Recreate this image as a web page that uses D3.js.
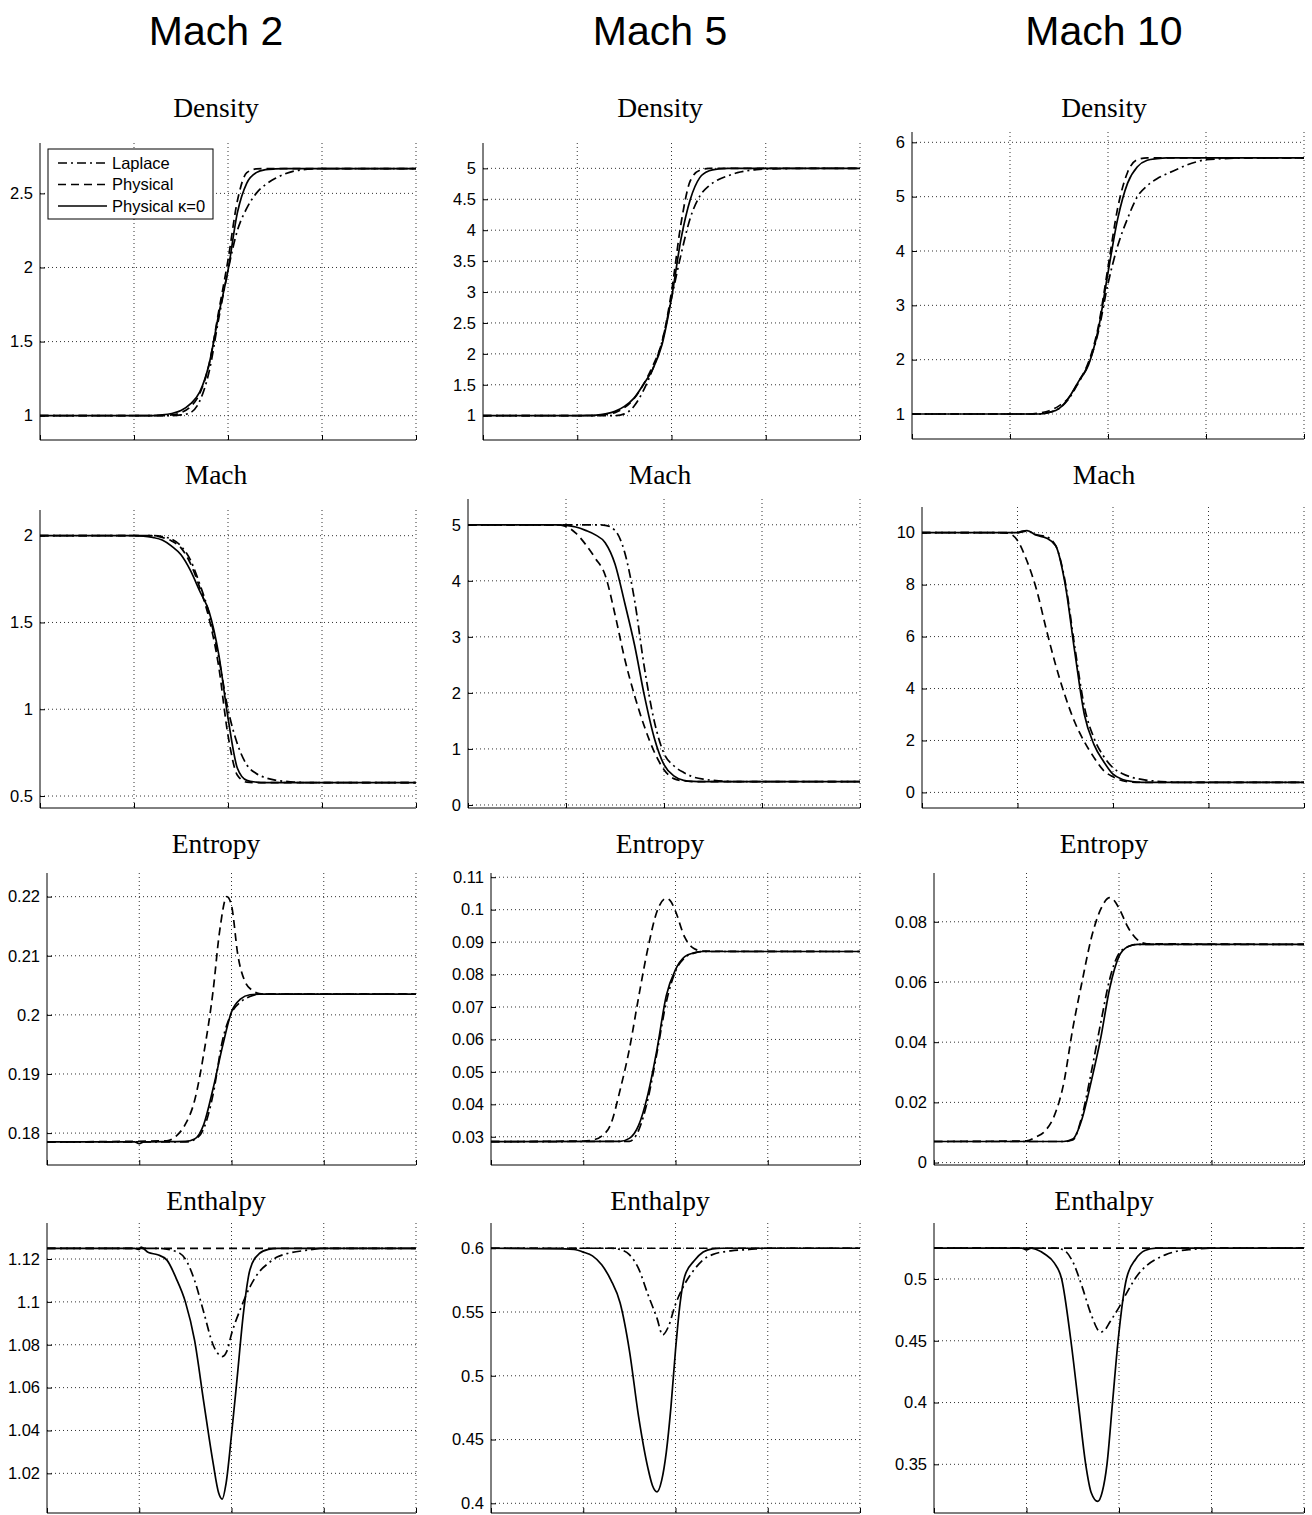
<!DOCTYPE html>
<html>
<head>
<meta charset="utf-8">
<script src="https://cdn.jsdelivr.net/npm/d3@7"></script>
<style>
body { margin: 0; background: #fff; }
.grid line { stroke: #333; stroke-width: 1; stroke-dasharray: 1,3; }
.axis-line { stroke: #000; stroke-width: 1; }
.tick-label { font-family: "Liberation Sans", Arial, sans-serif; font-size: 16.5px; fill: #000; }
.panel-title { font-family: "Liberation Serif", "Times New Roman", serif; font-size: 27.5px; fill: #000; }
.col-title { font-family: "Liberation Sans", Arial, sans-serif; font-size: 41px; fill: #000; }
.series { fill: none; stroke: #000; stroke-width: 1.7; }
.legend text { font-family: "Liberation Sans", Arial, sans-serif; font-size: 16.5px; }
</style>
</head>
<body>
<div id="chart"></div>
<script>
var width = 1312, height = 1515;

var columns = ["Mach 2", "Mach 5", "Mach 10"];
var quantities = ["Density", "Mach", "Entropy", "Enthalpy"];
var seriesNames = ["Laplace", "Physical", "Physical \u03ba=0"];
var xTicks = [0, 1, 2, 3, 4];
var xLimits = [0, 4];

// y tick values, one list per column
var densityTicks = [[1, 1.5, 2, 2.5], [1, 1.5, 2, 2.5, 3, 3.5, 4, 4.5, 5], [1, 2, 3, 4, 5, 6]];
var machTicks = [[0.5, 1, 1.5, 2], [0, 1, 2, 3, 4, 5], [0, 2, 4, 6, 8, 10]];
var entropyTicks = [[0.18, 0.19, 0.2, 0.21, 0.22], [0.03, 0.04, 0.05, 0.06, 0.07, 0.08, 0.09, 0.1, 0.11], [0, 0.02, 0.04, 0.06, 0.08]];
var enthalpyTicks = [[1.02, 1.04, 1.06, 1.08, 1.1, 1.12], [0.4, 0.45, 0.5, 0.55, 0.6], [0.35, 0.4, 0.45, 0.5]];

// y limits
var densityLimits = [[0.836, 2.84], [0.607, 5.41], [0.54, 6.19]];
var machLimits = [[0.431, 2.148], [-0.054, 5.46], [-0.6, 10.99]];
var entropyLimits = [[0.1746, 0.224], [0.0213, 0.1113], [-0.0008, 0.0962]];
var enthalpyLimits = [[1.0015, 1.1368], [0.3924, 0.6198], [0.3106, 0.5453]];

// ---- Density ----
var density2Laplace = [[0,1],[1.4,1],[1.5,1.005],[1.6,1.02],[1.7,1.1],[1.8,1.3],[1.9,1.65],[2.0,1.98],[2.1,2.25],[2.2,2.4],[2.3,2.5],[2.4,2.56],[2.5,2.6],[2.6,2.63],[2.7,2.65],[2.8,2.66],[2.9,2.665],[3.0,2.667],[4,2.667]];
var density2Physical = [[0,1],[1.3,1],[1.4,1.005],[1.5,1.02],[1.6,1.06],[1.7,1.15],[1.8,1.35],[1.9,1.7],[2.0,2.05],[2.1,2.45],[2.2,2.64],[2.3,2.665],[2.4,2.667],[4,2.667]];
var density2Kappa0 = [[0,1],[1.2,1],[1.3,1.005],[1.4,1.015],[1.5,1.035],[1.6,1.08],[1.7,1.16],[1.8,1.35],[1.9,1.68],[2.0,1.98],[2.1,2.37],[2.2,2.57],[2.3,2.64],[2.4,2.66],[2.5,2.665],[2.6,2.667],[4,2.667]];

var density5Laplace = [[0,1],[1.4,1],[1.5,1.03],[1.6,1.15],[1.7,1.4],[1.8,1.75],[1.9,2.2],[2.0,2.9],[2.1,3.6],[2.2,4.2],[2.3,4.55],[2.4,4.72],[2.5,4.82],[2.6,4.88],[2.7,4.93],[2.8,4.96],[2.9,4.98],[3.0,4.99],[3.5,5],[4,5]];
var density5Physical = [[0,1],[1.2,1],[1.3,1.02],[1.4,1.05],[1.5,1.13],[1.6,1.27],[1.7,1.5],[1.8,1.8],[1.9,2.2],[2.0,3.0],[2.1,4.1],[2.2,4.8],[2.3,4.97],[2.4,5],[4,5]];
var density5Kappa0 = [[0,1],[1.0,1],[1.1,1.005],[1.2,1.01],[1.3,1.03],[1.4,1.07],[1.5,1.15],[1.6,1.28],[1.7,1.5],[1.8,1.75],[1.9,2.15],[2.0,2.9],[2.1,3.85],[2.2,4.5],[2.3,4.85],[2.4,4.96],[2.5,4.99],[2.6,5],[4,5]];

var density10Laplace = [[0,1],[1.3,1],[1.4,1.03],[1.5,1.1],[1.6,1.28],[1.7,1.58],[1.8,1.92],[1.9,2.5],[2.0,3.4],[2.1,4.1],[2.2,4.6],[2.3,5.0],[2.4,5.2],[2.5,5.33],[2.6,5.42],[2.7,5.5],[2.8,5.58],[2.9,5.64],[3.0,5.68],[3.5,5.714],[4,5.714]];
var density10Physical = [[0,1],[1.2,1],[1.3,1.02],[1.4,1.06],[1.5,1.15],[1.6,1.3],[1.7,1.6],[1.8,1.95],[1.9,2.6],[2.0,3.7],[2.1,4.8],[2.2,5.45],[2.3,5.68],[2.4,5.714],[4,5.714]];
var density10Kappa0 = [[0,1],[1.3,1],[1.4,1.03],[1.5,1.1],[1.6,1.3],[1.7,1.6],[1.8,1.9],[1.9,2.55],[2.0,3.6],[2.1,4.6],[2.2,5.25],[2.3,5.55],[2.4,5.67],[2.5,5.7],[2.6,5.714],[4,5.714]];

// ---- Mach ----
var mach2Laplace = [[0,2],[1.2,2],[1.3,1.995],[1.4,1.98],[1.5,1.94],[1.6,1.86],[1.7,1.72],[1.8,1.55],[1.9,1.3],[2.0,1.0],[2.1,0.8],[2.2,0.68],[2.3,0.63],[2.4,0.605],[2.5,0.592],[2.6,0.585],[2.7,0.58],[2.8,0.578],[2.9,0.577],[4,0.577]];
var mach2Physical = [[0,2],[1.2,2],[1.3,1.99],[1.4,1.97],[1.5,1.93],[1.6,1.84],[1.7,1.7],[1.8,1.52],[1.9,1.25],[2.0,0.85],[2.1,0.62],[2.2,0.58],[2.3,0.577],[4,0.577]];
var mach2Kappa0 = [[0,2],[1.0,2],[1.1,1.998],[1.2,1.99],[1.3,1.975],[1.4,1.94],[1.5,1.89],[1.6,1.8],[1.7,1.68],[1.8,1.56],[1.9,1.32],[2.0,0.95],[2.1,0.66],[2.2,0.59],[2.3,0.58],[2.4,0.577],[4,0.577]];

var mach5Laplace = [[0,5],[1.3,5],[1.4,4.99],[1.5,4.9],[1.6,4.5],[1.7,3.65],[1.8,2.45],[1.9,1.5],[2.0,0.92],[2.1,0.7],[2.2,0.58],[2.3,0.5],[2.4,0.46],[2.5,0.44],[2.6,0.425],[2.7,0.418],[2.8,0.416],[4,0.416]];
var mach5Physical = [[0,5],[0.9,5],[1.0,4.97],[1.1,4.85],[1.2,4.65],[1.3,4.4],[1.4,4.1],[1.5,3.4],[1.6,2.6],[1.7,1.95],[1.8,1.4],[1.9,0.95],[2.0,0.63],[2.1,0.47],[2.2,0.43],[2.3,0.418],[2.4,0.416],[4,0.416]];
var mach5Kappa0 = [[0,5],[0.9,5],[1.0,4.99],[1.1,4.96],[1.2,4.9],[1.3,4.82],[1.4,4.68],[1.5,4.3],[1.6,3.6],[1.7,2.85],[1.8,1.95],[1.9,1.2],[2.0,0.72],[2.1,0.52],[2.2,0.44],[2.3,0.42],[2.4,0.416],[4,0.416]];

var mach10Laplace = [[0,10],[1.0,10],[1.1,10.06],[1.2,9.92],[1.3,9.85],[1.4,9.5],[1.5,8.1],[1.6,5.6],[1.7,3.3],[1.8,2.1],[1.9,1.4],[2.0,0.95],[2.1,0.72],[2.2,0.58],[2.3,0.5],[2.4,0.45],[2.5,0.42],[2.6,0.4],[2.7,0.39],[2.8,0.388],[4,0.388]];
var mach10Physical = [[0,10],[0.8,10],[0.9,9.98],[1.0,9.7],[1.1,8.9],[1.2,7.8],[1.3,6.3],[1.4,4.9],[1.5,3.7],[1.6,2.7],[1.7,1.95],[1.8,1.35],[1.9,0.85],[2.0,0.6],[2.1,0.45],[2.2,0.4],[2.3,0.388],[4,0.388]];
var mach10Kappa0 = [[0,10],[1.0,10],[1.05,10.06],[1.1,10.08],[1.2,9.9],[1.3,9.8],[1.4,9.5],[1.5,8.0],[1.6,5.4],[1.7,3.0],[1.8,1.85],[1.9,1.2],[2.0,0.7],[2.1,0.5],[2.2,0.42],[2.3,0.39],[2.4,0.388],[4,0.388]];

// ---- Entropy ----
var entropy2Laplace = [[0,0.1785],[1.5,0.1785],[1.6,0.1789],[1.7,0.1808],[1.8,0.1865],[1.9,0.1955],[2.0,0.2003],[2.1,0.2022],[2.2,0.2031],[2.3,0.2035],[4,0.2035]];
var entropy2Physical = [[0,0.1785],[1.3,0.1787],[1.4,0.1795],[1.5,0.1815],[1.6,0.1855],[1.7,0.1935],[1.8,0.204],[1.87,0.214],[1.95,0.22],[2.0,0.2185],[2.07,0.21],[2.15,0.2055],[2.22,0.2042],[2.3,0.2036],[2.4,0.2035],[4,0.2035]];
var entropy2Kappa0 = [[0,0.1785],[0.95,0.1785],[1.0,0.1782],[1.05,0.1785],[1.5,0.1786],[1.6,0.179],[1.7,0.1815],[1.8,0.1875],[1.9,0.1945],[2.0,0.2005],[2.1,0.2027],[2.2,0.2034],[2.3,0.2035],[4,0.2035]];

var entropy5Laplace = [[0,0.0285],[1.5,0.0286],[1.6,0.032],[1.7,0.0415],[1.8,0.056],[1.9,0.0715],[2.0,0.081],[2.1,0.0852],[2.2,0.0866],[2.3,0.0871],[4,0.0871]];
var entropy5Physical = [[0,0.0285],[1.0,0.0287],[1.1,0.029],[1.2,0.0302],[1.3,0.034],[1.4,0.0445],[1.5,0.057],[1.6,0.073],[1.7,0.088],[1.8,0.0995],[1.9,0.1035],[1.95,0.1025],[2.0,0.0995],[2.1,0.0915],[2.2,0.088],[2.3,0.0872],[4,0.0871]];
var entropy5Kappa0 = [[0,0.0285],[1.4,0.0286],[1.5,0.0295],[1.6,0.0335],[1.7,0.043],[1.8,0.057],[1.9,0.0735],[2.0,0.0815],[2.1,0.0855],[2.2,0.0867],[2.3,0.0871],[4,0.0871]];

var entropy10Laplace = [[0,0.007],[1.4,0.007],[1.5,0.0075],[1.6,0.0155],[1.7,0.03],[1.8,0.046],[1.9,0.061],[2.0,0.0695],[2.1,0.0718],[2.2,0.0725],[4,0.0725]];
var entropy10Physical = [[0,0.007],[1.0,0.0072],[1.1,0.0085],[1.2,0.0105],[1.3,0.0155],[1.4,0.026],[1.5,0.0445],[1.6,0.06],[1.7,0.0745],[1.8,0.084],[1.9,0.088],[1.95,0.087],[2.0,0.0845],[2.1,0.078],[2.2,0.074],[2.3,0.0727],[4,0.0725]];
var entropy10Kappa0 = [[0,0.007],[1.4,0.007],[1.5,0.0078],[1.6,0.0145],[1.7,0.027],[1.8,0.041],[1.9,0.058],[2.0,0.0685],[2.1,0.0718],[2.2,0.0725],[4,0.0725]];

// ---- Enthalpy ----
var enthalpy2Laplace = [[0,1.125],[1.2,1.125],[1.4,1.1235],[1.5,1.12],[1.6,1.11],[1.7,1.095],[1.8,1.08],[1.85,1.076],[1.9,1.0745],[1.95,1.077],[2.0,1.085],[2.1,1.097],[2.2,1.107],[2.3,1.114],[2.4,1.118],[2.5,1.121],[2.6,1.1225],[2.8,1.124],[3.0,1.125],[4,1.125]];
var enthalpy2Physical = [[0,1.125],[4,1.125]];
var enthalpy2Kappa0 = [[0,1.125],[0.95,1.125],[1.0,1.1245],[1.02,1.1255],[1.1,1.123],[1.2,1.122],[1.3,1.1195],[1.4,1.111],[1.5,1.1],[1.6,1.082],[1.7,1.053],[1.8,1.025],[1.86,1.011],[1.9,1.008],[1.94,1.015],[2.0,1.038],[2.06,1.064],[2.13,1.095],[2.2,1.115],[2.3,1.1225],[2.4,1.1245],[2.5,1.125],[4,1.125]];

var enthalpy5Laplace = [[0,0.6],[1.3,0.6],[1.4,0.599],[1.5,0.595],[1.6,0.584],[1.7,0.564],[1.8,0.545],[1.86,0.532],[1.92,0.538],[2.0,0.556],[2.1,0.572],[2.2,0.583],[2.3,0.591],[2.4,0.595],[2.6,0.598],[2.8,0.599],[3.0,0.6],[4,0.6]];
var enthalpy5Physical = [[0,0.6],[4,0.6]];
var enthalpy5Kappa0 = [[0,0.6],[0.8,0.5995],[0.9,0.599],[1.0,0.597],[1.1,0.594],[1.2,0.587],[1.3,0.575],[1.4,0.557],[1.5,0.52],[1.6,0.468],[1.7,0.428],[1.75,0.414],[1.8,0.409],[1.85,0.418],[1.9,0.44],[1.95,0.475],[2.0,0.52],[2.05,0.557],[2.1,0.578],[2.2,0.59],[2.3,0.597],[2.4,0.5995],[2.5,0.6],[4,0.6]];

var enthalpy10Laplace = [[0,0.525],[1.3,0.525],[1.4,0.5235],[1.5,0.514],[1.6,0.494],[1.7,0.471],[1.8,0.457],[1.85,0.459],[1.9,0.465],[2.0,0.477],[2.1,0.491],[2.2,0.503],[2.3,0.511],[2.4,0.516],[2.5,0.5195],[2.6,0.522],[2.8,0.524],[3.0,0.525],[4,0.525]];
var enthalpy10Physical = [[0,0.525],[4,0.525]];
var enthalpy10Kappa0 = [[0,0.525],[0.95,0.525],[1.0,0.5235],[1.05,0.525],[1.1,0.524],[1.2,0.52],[1.3,0.513],[1.38,0.5],[1.48,0.45],[1.56,0.4],[1.64,0.35],[1.7,0.327],[1.77,0.32],[1.82,0.328],[1.87,0.35],[1.93,0.4],[1.99,0.45],[2.08,0.5],[2.18,0.516],[2.28,0.523],[2.4,0.525],[4,0.525]];

// table built from the arrays above: rows = quantities, columns = Mach numbers
var table = [
  { ticks: densityTicks, limits: densityLimits, series: [
      [density2Laplace, density2Physical, density2Kappa0],
      [density5Laplace, density5Physical, density5Kappa0],
      [density10Laplace, density10Physical, density10Kappa0]] },
  { ticks: machTicks, limits: machLimits, series: [
      [mach2Laplace, mach2Physical, mach2Kappa0],
      [mach5Laplace, mach5Physical, mach5Kappa0],
      [mach10Laplace, mach10Physical, mach10Kappa0]] },
  { ticks: entropyTicks, limits: entropyLimits, series: [
      [entropy2Laplace, entropy2Physical, entropy2Kappa0],
      [entropy5Laplace, entropy5Physical, entropy5Kappa0],
      [entropy10Laplace, entropy10Physical, entropy10Kappa0]] },
  { ticks: enthalpyTicks, limits: enthalpyLimits, series: [
      [enthalpy2Laplace, enthalpy2Physical, enthalpy2Kappa0],
      [enthalpy5Laplace, enthalpy5Physical, enthalpy5Kappa0],
      [enthalpy10Laplace, enthalpy10Physical, enthalpy10Kappa0]] }
];

// plot boxes (left, right, top, bottom) in page pixels
var boxes = [
  [[40, 416, 143, 440], [483, 860, 143, 440], [912, 1304, 132, 439]],
  [[40, 416, 510, 808], [468, 860, 499, 808], [922, 1304, 507, 808]],
  [[47, 416, 873, 1165], [491, 860, 873, 1165], [934, 1304, 873, 1165]],
  [[47, 416, 1223, 1513], [491, 860, 1223, 1513], [934, 1304, 1223, 1513]]
];
var colCenters = [216, 660, 1104];
var titleBaselines = [117, 484, 853, 1210];
var dashes = ["9,4,2,4", "8,5", null];

var svg = d3.select("#chart")
            .append("svg")
            .attr("width", width)
            .attr("height", height);

// column headers
svg.selectAll(".col-title")
   .data(columns)
   .enter().append("text")
   .attr("class", "col-title")
   .attr("x", function(d, i) { return colCenters[i]; })
   .attr("y", 45)
   .attr("text-anchor", "middle")
   .text(function(d) { return d; });

table.forEach(function(row, r) {
  columns.forEach(function(col, c) {
    var b = boxes[r][c];
    var x = d3.scaleLinear().domain(xLimits).range([b[0], b[1]]);
    var y = d3.scaleLinear().domain(row.limits[c]).range([b[3], b[2]]);
    var g = svg.append("g");

    g.append("text")
     .attr("class", "panel-title")
     .attr("x", colCenters[c])
     .attr("y", titleBaselines[r])
     .attr("text-anchor", "middle")
     .text(quantities[r]);

    // dotted grid
    var grid = g.append("g").attr("class", "grid");
    grid.selectAll(".hg")
        .data(row.ticks[c])
        .enter().append("line")
        .attr("x1", b[0]).attr("x2", b[1])
        .attr("y1", function(d) { return y(d); })
        .attr("y2", function(d) { return y(d); });
    grid.selectAll(".vg")
        .data(xTicks.slice(1))
        .enter().append("line")
        .attr("y1", b[2]).attr("y2", b[3])
        .attr("x1", function(d) { return x(d); })
        .attr("x2", function(d) { return x(d); });

    // left axis with inward ticks
    var yAxis = d3.axisLeft(y).tickValues(row.ticks[c])
                  .tickSizeInner(-5).tickSizeOuter(0).tickPadding(7)
                  .tickFormat(function(d) { return String(+d.toFixed(4)); });
    var ya = g.append("g").attr("transform", "translate(" + b[0] + ",0)").call(yAxis);
    ya.select(".domain").remove();
    ya.selectAll("text").attr("class", "tick-label").attr("font-family", null).attr("font-size", null);
    ya.selectAll("line").attr("stroke", "#000");

    // bottom axis, no labels
    var xAxis = d3.axisBottom(x).tickValues(xTicks).tickSizeInner(-5).tickSizeOuter(0).tickFormat("");
    var xa = g.append("g").attr("transform", "translate(0," + b[3] + ")").call(xAxis);
    xa.select(".domain").remove();
    xa.selectAll("line").attr("stroke", "#000");

    g.append("line").attr("class", "axis-line")
     .attr("x1", b[0]).attr("x2", b[0]).attr("y1", b[2]).attr("y2", b[3]);
    g.append("line").attr("class", "axis-line")
     .attr("x1", b[0]).attr("x2", b[1]).attr("y1", b[3]).attr("y2", b[3]);

    var line = d3.line()
                 .x(function(d) { return x(d[0]); })
                 .y(function(d) { return y(d[1]); })
                 .curve(d3.curveMonotoneX);

    row.series[c].forEach(function(s, k) {
      g.append("path")
       .attr("class", "series")
       .attr("d", line(s))
       .attr("stroke-dasharray", dashes[k]);
    });
  });
});

// legend in the first panel
var legend = svg.append("g").attr("class", "legend");
legend.append("rect")
      .attr("x", 48).attr("y", 149).attr("width", 165).attr("height", 70)
      .attr("fill", "#fff").attr("stroke", "#000").attr("stroke-width", 1);
seriesNames.forEach(function(name, k) {
  var ly = 163 + k * 21.5;
  legend.append("line")
        .attr("class", "series")
        .attr("x1", 58).attr("x2", 107).attr("y1", ly).attr("y2", ly)
        .attr("stroke-dasharray", dashes[k]);
  legend.append("text")
        .attr("x", 112).attr("y", ly + 5.5)
        .text(name);
});
</script>
</body>
</html>
